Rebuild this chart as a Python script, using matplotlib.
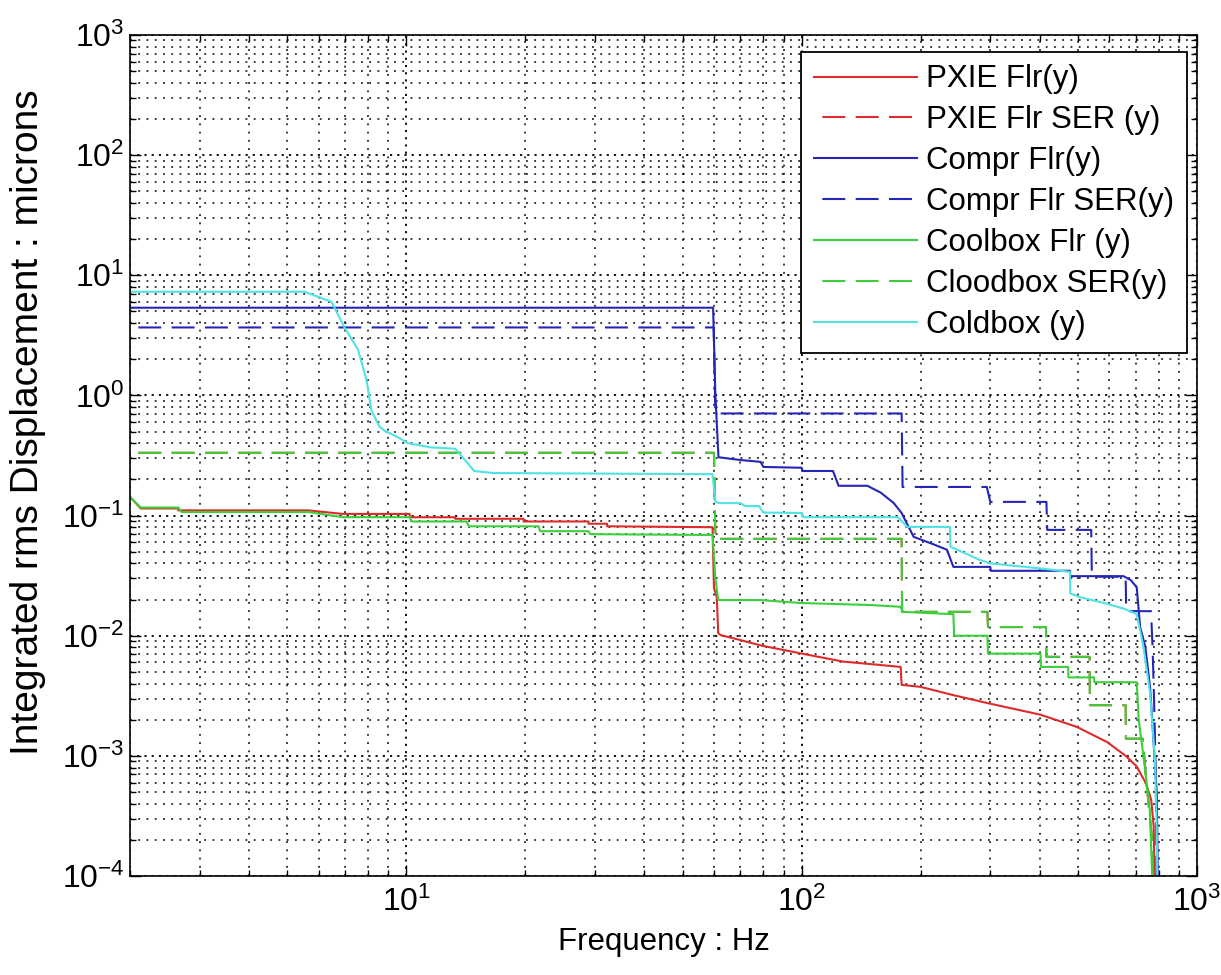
import numpy as np
import matplotlib
matplotlib.use("Agg")
import matplotlib.pyplot as plt
from matplotlib.ticker import LogLocator, NullFormatter, FixedLocator

plt.rcParams['font.family'] = ['Liberation Sans', 'DejaVu Sans']

# ---- data (frequency in Hz, displacement in microns) ----
pxie_f = [2.0, 2.13, 2.65, 2.65, 5.65, 6.9, 10.2, 10.2, 13.3, 13.3, 19.8, 19.8, 28.9, 28.9,
          32.2, 32.2, 59.5, 60.0, 61.0, 61.5, 62.5, 70.0, 78.8, 100, 127, 178, 179, 200,
          242, 295, 402, 497, 593, 660, 703, 743, 766, 777, 781, 783]
pxie_v = [0.143, 0.1146, 0.1146, 0.1105, 0.1105, 0.1032, 0.1032, 0.0968, 0.0968, 0.094,
          0.094, 0.0893, 0.0893, 0.0855, 0.0855, 0.0814, 0.080, 0.025, 0.021, 0.0105,
          0.0101, 0.0092, 0.0083, 0.0071, 0.0061, 0.0055, 0.0039, 0.00375, 0.0032, 0.00275,
          0.0022, 0.00174, 0.0013, 0.0010, 0.00082, 0.00059, 0.00043, 0.00026, 0.0001, 0.00005]

pxie_ser_f = [2.0, 60.0, 60.5, 179, 179.5, 295, 296, 415, 416, 535, 536, 660, 661, 729,
              745, 770, 776]
pxie_ser_v = [0.333, 0.333, 0.064, 0.064, 0.0158, 0.0158, 0.0118, 0.0118, 0.00667, 0.00667,
              0.00264, 0.00264, 0.00139, 0.00139, 0.0006, 0.0002, 0.00005]

comp_f = [2.0, 59.7, 60.5, 61.6, 70, 78.7, 80, 100, 100.5, 120, 124, 146.6, 158.6, 171,
          179, 192, 215.6, 233, 242, 300, 301, 477, 478, 652, 680, 704, 718, 740, 761,
          776, 791, 798]
comp_v = [5.37, 5.37, 1.0, 0.306, 0.29, 0.28, 0.254, 0.25, 0.235, 0.235, 0.177, 0.177,
          0.155, 0.127, 0.105, 0.0665, 0.0576, 0.052, 0.0374, 0.0374, 0.0347, 0.0347,
          0.0313, 0.0313, 0.029, 0.0253, 0.0118, 0.0081, 0.0037, 0.00135, 0.00049, 0.00005]

comp_ser_f = [2.0, 59.9, 60.5, 179, 180, 294, 300, 416, 418, 540, 542, 660, 662, 765,
              772, 778, 786, 792]
comp_ser_v = [3.68, 3.68, 0.708, 0.708, 0.173, 0.173, 0.13, 0.13, 0.076, 0.076, 0.031,
              0.031, 0.016, 0.016, 0.008, 0.0033, 0.0008, 0.00005]

cool_f = [2.0, 2.13, 2.65, 2.7, 5.65, 6.9, 10.2, 10.3, 14.2, 14.4, 21.6, 21.8, 28.9, 29.2,
          56, 59.5, 60.5, 61.5, 70, 78.8, 100, 150, 178, 180, 242, 243, 295, 296, 402, 403,
          472, 473, 549, 550, 704, 712, 735, 760, 776]
cool_v = [0.143, 0.1166, 0.1166, 0.107, 0.107, 0.097, 0.097, 0.0893, 0.0893, 0.0814, 0.0814,
          0.0741, 0.0741, 0.070, 0.069, 0.069, 0.03, 0.0198, 0.0198, 0.0198, 0.0187, 0.018,
          0.0174, 0.0158, 0.0151, 0.010, 0.010, 0.0071, 0.0071, 0.0055, 0.0055, 0.0045,
          0.0045, 0.0041, 0.0041, 0.002, 0.0009, 0.00035, 0.00005]

cool_ser_f = [2.0, 60.0, 60.5, 179, 179.5, 295, 296, 415, 416, 535, 536, 660, 661, 729,
              745, 770, 776]
cool_ser_v = [0.333, 0.333, 0.064, 0.064, 0.0158, 0.0158, 0.0118, 0.0118, 0.00667, 0.00667,
              0.00264, 0.00264, 0.00139, 0.00139, 0.0006, 0.0002, 0.00005]

cold_f = [2.0, 5.53, 6.0, 6.47, 6.97, 7.55, 7.93, 8.16, 8.55, 8.8, 9.5, 10.1, 11.5, 13.3,
          14.85, 16.6, 59.5, 60.5, 62, 70, 72, 78, 80, 100, 101, 175, 185, 237, 238, 283,
          300, 402, 477, 478, 505, 590, 660, 704, 732, 761, 783, 791, 795]
cold_v = [7.3, 7.3, 6.6, 6.0, 3.7, 2.4, 1.34, 0.75, 0.55, 0.51, 0.45, 0.40, 0.37, 0.36,
          0.235, 0.226, 0.221, 0.13, 0.127, 0.127, 0.12, 0.12, 0.106, 0.105, 0.097, 0.097,
          0.0805, 0.0805, 0.055, 0.0426, 0.040, 0.0363, 0.034, 0.0225, 0.021, 0.0185,
          0.0166, 0.0151, 0.0081, 0.0033, 0.00093, 0.00025, 0.00005]

labels = ['PXIE Flr(y)', 'PXIE Flr SER (y)', 'Compr Flr(y)', 'Compr Flr SER(y)',
          'Coolbox Flr (y)', 'Cloodbox SER(y)', 'Coldbox (y)']

x_ticks = [10, 100, 1000]
y_ticks = [1e-4, 1e-3, 1e-2, 1e-1, 1e0, 1e1, 1e2, 1e3]

RED = '#dd2a2a'
BLUE = '#2525b8'
GREEN = '#3ccf3c'
CYAN = '#4fe3e3'
DASH = (12, (11, 5))

# ---- figure ----
fig = plt.figure(figsize=(12.21, 9.75), dpi=100)
ax = fig.add_axes([130 / 1221, 1 - 876 / 975, 1067 / 1221, 841 / 975])

lw = 1.5
ax.plot(pxie_f, pxie_v, color=RED, lw=lw, label=labels[0])
ax.plot(pxie_ser_f, pxie_ser_v, color=RED, lw=lw, linestyle=DASH, label=labels[1])
ax.plot(comp_f, comp_v, color=BLUE, lw=lw, label=labels[2])
ax.plot(comp_ser_f, comp_ser_v, color=BLUE, lw=lw, linestyle=DASH, label=labels[3])
ax.plot(cool_f, cool_v, color=GREEN, lw=lw, label=labels[4])
ax.plot(cool_ser_f, cool_ser_v, color=GREEN, lw=lw, linestyle=DASH, label=labels[5])
ax.plot(cold_f, cold_v, color=CYAN, lw=lw, label=labels[6])

ax.set_xscale('log')
ax.set_yscale('log')
ax.set_xlim(2, 1000)
ax.set_ylim(1e-4, 1e3)

ax.xaxis.set_major_locator(FixedLocator(x_ticks))
ax.yaxis.set_major_locator(FixedLocator(y_ticks))
for axis in (ax.xaxis, ax.yaxis):
    axis.set_minor_locator(LogLocator(base=10, subs=np.arange(2, 10), numticks=20))
    axis.set_minor_formatter(NullFormatter())

ax.grid(True, which='major', color='k', linestyle=(0, (1.2, 2.8)), linewidth=1.3)
ax.grid(True, which='minor', color='k', linestyle=(0, (1.2, 4.2)), linewidth=1.1)
ax.set_axisbelow(True)

ax.tick_params(which='both', direction='in', top=True, right=True, width=1.0,
               labelsize=23, colors='k')
ax.tick_params(which='major', length=8)
ax.tick_params(which='minor', length=4)
ax.tick_params(axis='x', pad=8)
ax.tick_params(axis='y', pad=4)
for sp in ax.spines.values():
    sp.set_linewidth(1.2)
    sp.set_color('k')

ax.set_xlabel('Frequency : Hz', fontsize=22.5, labelpad=6)
ax.set_ylabel('Integrated rms Displacement : microns', fontsize=28)
ax.yaxis.set_label_coords(-0.079, 0.54)

leg = ax.legend(loc='upper right', bbox_to_anchor=(0.9906, 0.9798), borderaxespad=0,
                fontsize=22.5, frameon=True, fancybox=False, framealpha=1,
                edgecolor='k', handlelength=3.3, handletextpad=0.3,
                labelspacing=0.35, borderpad=0.4)
leg.get_frame().set_linewidth(1.3)

fig.savefig('out.png', dpi=100, facecolor='white')
